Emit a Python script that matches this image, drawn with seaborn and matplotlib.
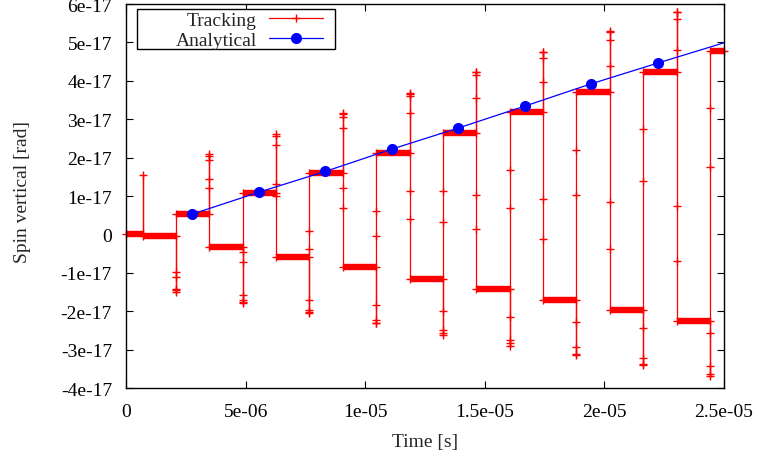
import numpy as np
import pandas as pd
import matplotlib
matplotlib.use("Agg")
import matplotlib.pyplot as plt
from matplotlib.lines import Line2D
from matplotlib.patches import Rectangle
import seaborn as sns

# ---------------- data ----------------
UNIT = 1e-17
# times of the jumps between plateaus [s]
transition_times = [0.70e-6, 2.09e-6, 3.49e-6, 4.88e-6, 6.28e-6, 7.67e-6, 9.07e-6,
                    10.46e-6, 11.86e-6, 13.25e-6, 14.65e-6, 16.04e-6, 17.44e-6,
                    18.83e-6, 20.23e-6, 21.62e-6, 23.02e-6, 24.41e-6]
t_start, t_end = 0.0, 2.5e-5
# plateau levels [1e-17 rad]
plateau_levels = [0.0, -0.04, 0.52, -0.32, 1.07, -0.60, 1.59, -0.86, 2.11, -1.15,
                  2.64, -1.41, 3.19, -1.70, 3.71, -1.96, 4.23, -2.25, 4.78]
# samples taken during each jump [1e-17 rad]
jump_samples = [
    [1.54],
    [-1.51, -1.46, -1.41, -1.10, -0.98],
    [2.09, 2.04, 1.94, 1.44, 1.20],
    [-1.78, -1.75, -1.70, -1.57, -0.73, -0.46],
    [2.61, 2.57, 2.34, 1.32, 1.00],
    [-2.04, -2.03, -1.98, -1.70, -0.39, 0.08],
    [3.16, 3.13, 3.05, 2.76, 1.22, 0.70],
    [-2.32, -2.30, -2.24, -1.85, -0.03, 0.61],
    [3.68, 3.66, 3.61, 3.15, 1.13, 0.41],
    [-2.61, -2.57, -2.48, -2.00, 0.32, 1.13],
    [4.23, 4.22, 4.15, 3.56, 1.02, 0.15],
    [-2.90, -2.83, -2.74, -2.14, 0.68, 1.67],
    [4.76, 4.74, 4.59, 3.98, 0.93, -0.13],
    [-3.13, -3.11, -2.92, -2.29, 1.03, 2.20],
    [5.30, 5.27, 5.07, 4.38, 0.84, -0.39],
    [-3.39, -3.37, -3.22, -2.44, 1.39, 2.74],
    [5.80, 5.79, 5.60, 4.79, 0.74, -0.68],
    [-3.68, -3.63, -3.44, -2.57, 1.76, 3.28],
]
# analytical solution
analytical_t = [2.78e-6, 5.56e-6, 8.33e-6, 11.11e-6, 13.89e-6, 16.67e-6,
                19.44e-6, 22.22e-6, 25.0e-6]
analytical_v = [0.53, 1.10, 1.64, 2.22, 2.77, 3.34, 3.92, 4.46, 4.99]

x_ticks = [0, 5e-6, 1e-5, 1.5e-5, 2e-5, 2.5e-5]
x_ticklabels = ["0", "5e-06", "1e-05", "1.5e-05", "2e-05", "2.5e-05"]
y_ticks = [-4, -3, -2, -1, 0, 1, 2, 3, 4, 5, 6]
y_ticklabels = ["-4e-17", "-3e-17", "-2e-17", "-1e-17", "0", "1e-17",
                "2e-17", "3e-17", "4e-17", "5e-17", "6e-17"]

# ---------------- build tracking path ----------------
edges = [t_start] + transition_times + [t_end]
path_t, path_v = [], []
for i, lvl in enumerate(plateau_levels):
    path_t += [edges[i], edges[i + 1]]
    path_v += [lvl, lvl]
    if i < len(jump_samples):
        for v in jump_samples[i]:
            path_t.append(transition_times[i])
            path_v.append(v)
track = pd.DataFrame({"t": path_t, "v": np.array(path_v) * UNIT})
ana = pd.DataFrame({"t": analytical_t, "v": np.array(analytical_v) * UNIT})

# ---------------- style ----------------
sns.set_theme(style="ticks")
plt.rcParams["font.family"] = ["Liberation Serif", "DejaVu Serif"]
plt.rcParams["font.size"] = 14

RED = "#ff0000"
BLUE = "#0000ff"
FS = 14

W, H = 758, 460
AX_L, AX_R, AX_T, AX_B = 126, 724, 5, 389
fig = plt.figure(figsize=(W / 100, H / 100), dpi=100)
ax = fig.add_axes([AX_L / W, 1 - AX_B / H, (AX_R - AX_L) / W, (AX_B - AX_T) / H])

sns.lineplot(data=track, x="t", y="v", sort=False, estimator=None, ax=ax,
             color=RED, linewidth=0.9, marker="+", markersize=5.5,
             markeredgewidth=1.0, markeredgecolor=RED, clip_on=False, zorder=2)
# dense sampling on the plateaus shows as thick bars
lv = np.array(plateau_levels) * UNIT
ax.hlines(lv, edges[:-1], edges[1:], colors=RED, linewidth=4.6, zorder=2)

sns.lineplot(data=ana, x="t", y="v", sort=False, estimator=None, ax=ax,
             color=BLUE, linewidth=0.9, marker="o", markersize=8,
             markeredgewidth=0, markevery=list(range(len(analytical_t) - 1)),
             zorder=3)

ax.set_xlim(x_ticks[0], x_ticks[-1])
ax.set_ylim(y_ticks[0] * UNIT, y_ticks[-1] * UNIT)
ax.set_xticks(x_ticks)
ax.set_xticklabels(x_ticklabels)
ax.set_yticks(np.array(y_ticks) * UNIT)
ax.set_yticklabels(y_ticklabels)
ax.tick_params(direction="in", length=5, width=0.8, top=True, right=True,
               labelsize=FS, colors="black")
ax.tick_params(axis="y", pad=10)
ax.tick_params(axis="x", pad=10.5)
for s in ax.spines.values():
    s.set_linewidth(1.0)
    s.set_color("black")
    s.set_visible(True)
ax.set_xlabel("Time [s]", fontsize=FS, labelpad=9.5)
ax.set_ylabel("Spin vertical [rad]", fontsize=FS)
ax.yaxis.set_label_coords(-0.1595, 0.512)

# ---------------- legend (gnuplot-style key) ----------------
handles = [
    Line2D([], [], color=RED, linewidth=0.9, marker="+", markersize=6,
           markeredgewidth=1.0),
    Line2D([], [], color=BLUE, linewidth=0.9, marker="o", markersize=8,
           markeredgewidth=0),
]
pw, ph = AX_R - AX_L, AX_B - AX_T
box_x0 = (137 - AX_L) / pw
box_x1 = (335 - AX_L) / pw
box_y1 = 1 - (10 - AX_T) / ph
box_y0 = 1 - (50 - AX_T) / ph
ax.add_patch(Rectangle((box_x0, box_y0), box_x1 - box_x0, box_y1 - box_y0,
                       transform=ax.transAxes, facecolor="white",
                       edgecolor="black", linewidth=1.0, zorder=4.5))
leg = ax.legend(handles, ["Tracking", "Analytical"], loc="upper right",
                bbox_to_anchor=((323 - AX_L) / pw, 1 - (12.5 - AX_T) / ph),
                markerfirst=False, numpoints=1, handlelength=2.8,
                handletextpad=0.6, labelspacing=0.12, borderpad=0.0,
                borderaxespad=0.0, frameon=False, fontsize=FS)
leg.set_zorder(5)

fig.savefig("out.png", dpi=100, facecolor="white")
